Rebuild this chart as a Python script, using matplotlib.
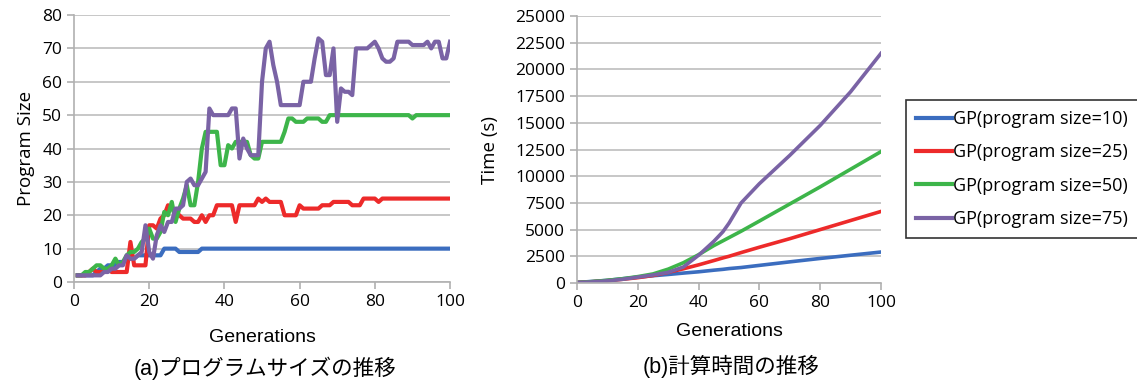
import numpy as np
import matplotlib
matplotlib.use("Agg")
import matplotlib.pyplot as plt

# generations for the program-size panel
gens = np.arange(1, 101)

size10 = [2, 2, 2, 2, 2, 3, 4, 4, 5, 5,
          5, 6, 6, 7, 7, 7, 8, 8, 8, 8,
          8, 8, 8, 10, 10, 10, 10, 9, 9, 9,
          9, 9, 9, 10, 10, 10, 10, 10, 10, 10] + [10] * 60

size25 = [2, 2, 2, 3, 4, 3, 3, 3, 4, 3,
          3, 3, 3, 3, 12, 5, 5, 5, 5, 17,
          17, 16, 19, 20, 23, 22, 21, 20, 19, 19,
          19, 18, 18, 20, 18, 20, 20, 23, 23, 23,
          23, 23, 18, 23, 23, 23, 23, 23, 25, 24,
          25, 24, 24, 24, 24, 20, 20, 20, 20, 23,
          22, 22, 22, 22, 22, 23, 23, 23, 24, 24,
          24, 24, 24, 23, 23, 23, 25, 25, 25, 25,
          24, 25, 25, 25, 25, 25, 25, 25, 25, 25,
          25, 25, 25, 25, 25, 25, 25, 25, 25, 25]

size50 = [2, 2, 3, 3, 4, 5, 5, 4, 4, 5,
          7, 5, 6, 8, 9, 9, 10, 12, 13, 16,
          13, 13, 15, 21, 20, 24, 18, 22, 25, 29,
          23, 23, 30, 40, 45, 45, 45, 45, 35, 35,
          41, 40, 42, 42, 42, 42, 38, 37, 37, 42,
          42, 42, 42, 42, 42, 45, 49, 49, 48, 48,
          48, 49, 49, 49, 49, 48, 48, 50, 50, 50] + \
         [50] * 19 + [49] + [50] * 10

size75 = [2, 2, 2, 2, 2, 2, 2, 3, 3, 4,
          4, 5, 5, 8, 7, 7, 8, 9, 17, 9,
          7, 14, 17, 15, 18, 18, 22, 22, 23, 30,
          31, 29, 29, 31, 33, 52, 50, 50, 50, 50,
          50, 52, 52, 37, 43, 40, 38, 38, 38, 60,
          70, 72, 65, 60, 53, 53, 53, 53, 53, 53,
          60, 60, 60, 67, 73, 72, 62, 62, 70, 48,
          58, 57, 57, 56, 70, 70, 70, 70, 71, 72,
          70, 67, 66, 66, 67, 72, 72, 72, 72, 71,
          71, 71, 71, 72, 70, 72, 72, 67, 67, 72]

# generations / seconds for the time panel
t_gens = [0, 5, 10, 15, 20, 25, 30, 35, 40, 45, 48, 50, 54, 60, 70, 80, 90, 100]
time10 = [50, 150, 250, 400, 550, 680, 800, 930, 1050, 1200, 1280, 1350, 1450, 1650, 1980, 2300, 2600, 2900]
time25 = [50, 120, 220, 350, 500, 700, 1000, 1330, 1700, 2100, 2350, 2500, 2850, 3350, 4150, 5000, 5850, 6700]
time50 = [50, 130, 250, 400, 600, 850, 1300, 1900, 2650, 3500, 3950, 4250, 4850, 5800, 7400, 9000, 10650, 12300]
time75 = [50, 100, 200, 350, 550, 750, 1000, 1500, 2600, 3900, 4800, 5600, 7500, 9300, 11950, 14750, 17900, 21500]

labels = ["GP(program size=10)", "GP(program size=25)",
          "GP(program size=50)", "GP(program size=75)"]
colors = ["#3b6dbf", "#ed2a2a", "#3db54a", "#7a63a5"]

plt.rcParams['font.family'] = ['Open Sans', 'DejaVu Sans']

fig = plt.figure(figsize=(11.37, 3.81), dpi=100)
ax1 = fig.add_axes([0.0651, 0.2598, 0.3307, 0.7008])
ax2 = fig.add_axes([0.5075, 0.2572, 0.2673, 0.7008])


def style(ax):
    for s in ["top", "right"]:
        ax.spines[s].set_visible(False)
    for s in ["left", "bottom"]:
        ax.spines[s].set_color("#b0b0b0")
        ax.spines[s].set_linewidth(1.2)
    ax.yaxis.grid(True, color="#bdbdbd", linewidth=1.2)
    ax.set_axisbelow(True)
    ax.tick_params(axis="both", colors="#b0b0b0", labelcolor="black",
                   labelsize=12.5, length=5, width=1.2)
    ax.set_xlim(0, 100)
    ax.set_xticks(range(0, 101, 20))


lines = []
for ys, c, lab in zip([size10, size25, size50, size75], colors, labels):
    ln, = ax1.plot(gens, ys, color=c, lw=3, label=lab, solid_joinstyle="round")
    lines.append(ln)
style(ax1)
ax1.set_ylim(0, 80)
ax1.set_yticks(range(0, 81, 10))
ax1.set_ylabel("Program Size", fontsize=13.5, labelpad=5)
ax1.set_xlabel("Generations", fontsize=14, family=['Liberation Sans'], labelpad=14)

for ys, c in zip([time10, time25, time50, time75], colors):
    ax2.plot(t_gens, ys, color=c, lw=2.6)
style(ax2)
ax2.set_ylim(0, 25000)
ax2.set_yticks(range(0, 25001, 2500))
ax2.set_ylabel("Time (s)", fontsize=13.5, labelpad=12)
ax2.set_xlabel("Generations", fontsize=14, family=['Liberation Sans'], labelpad=9)

cap_font = ['Liberation Sans', 'Noto Sans CJK JP']
fig.text(265 / 1137, 1 - 368 / 381, "(a)プログラムサイズの推移", ha="center", va="center",
         fontsize=15.5, family=cap_font)
fig.text(731 / 1137, 1 - 366 / 381, "(b)計算時間の推移", ha="center", va="center",
         fontsize=15.5, family=cap_font)

leg = fig.legend(handles=lines, loc="upper left",
                 bbox_to_anchor=(906 / 1137, 1 - 100 / 381),
                 fontsize=13, frameon=True, fancybox=False, edgecolor="black",
                 handlelength=2.0, handletextpad=0.05, labelspacing=0.85,
                 borderpad=0.55, borderaxespad=0)
leg.get_frame().set_linewidth(1.2)

fig.savefig("out.png", dpi=100)
